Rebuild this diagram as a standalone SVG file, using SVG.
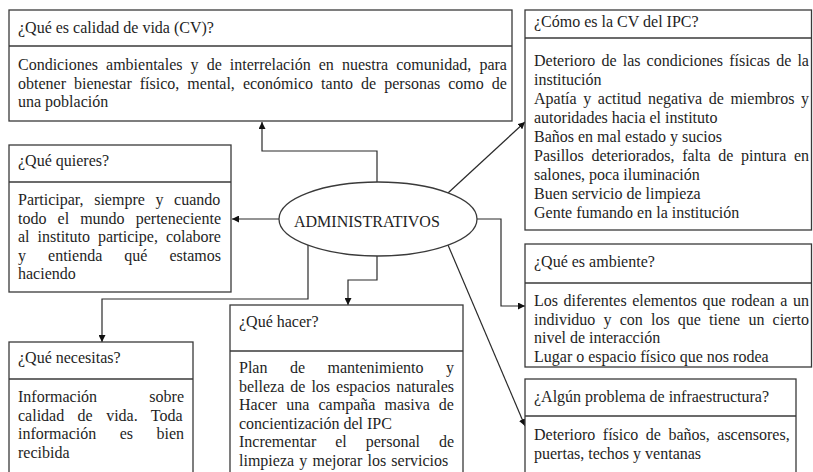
<svg xmlns="http://www.w3.org/2000/svg" width="813" height="472" viewBox="0 0 813 472">
<style>
.bg{fill:#fff}
.box{fill:#fff;stroke:#3a3a3a;stroke-width:1.3}
.div{stroke:#3a3a3a;stroke-width:1.3;fill:none}
.t{font-family:"Liberation Serif","Times New Roman",serif;font-size:16px;fill:#1e1e1e}
.con{fill:none;stroke:#2a2a2a;stroke-width:1.2}
</style>
<defs>
<marker id="ah" viewBox="0 0 10 10" refX="10" refY="5" markerWidth="7" markerHeight="7" markerUnits="userSpaceOnUse" orient="auto">
<path d="M0,0 L10,5 L0,10 z" fill="#111"/>
</marker>
</defs>
<rect class="bg" x="0" y="0" width="813" height="472"/>

<g id="connectors">
<polyline class="con" points="377,182 377,151 262,151 262,122" marker-end="url(#ah)"/>
<line class="con" x1="448" y1="193" x2="525" y2="122" marker-end="url(#ah)"/>
<line class="con" x1="279" y1="219" x2="232" y2="219" marker-end="url(#ah)"/>
<polyline class="con" points="477,219 501,219 501,306 525,306" marker-end="url(#ah)"/>
<line class="con" x1="448" y1="245" x2="525" y2="426" marker-end="url(#ah)"/>
<polyline class="con" points="377,256 377,280 348,280 348,305" marker-end="url(#ah)"/>
<polyline class="con" points="308,245 308,299 102,299 102,342" marker-end="url(#ah)"/>
</g>

<g id="n-calidad">
<rect class="box" x="9" y="10" width="503" height="111"/>
<line class="div" x1="9" y1="46" x2="512" y2="46"/>
<text class="t" x="18" y="33">¿Qué es calidad de vida (CV)?</text>
<text class="t" x="18" y="70" word-spacing="4.08">Condiciones ambientales y de interrelación en nuestra comunidad, para</text>
<text class="t" x="18" y="88.5" word-spacing="4.02">obtener bienestar físico, mental, económico tanto de personas como de</text>
<text class="t" x="18" y="107">una población</text>
</g>

<g id="n-ipc">
<rect class="box" x="525" y="10" width="286.5" height="220"/>
<line class="div" x1="525" y1="38" x2="811.5" y2="38"/>
<text class="t" x="534" y="27">¿Cómo es la CV del IPC?</text>
<text class="t" x="534" y="66" word-spacing="2.14">Deterioro de las condiciones físicas de la</text>
<text class="t" x="534" y="85">institución</text>
<text class="t" x="534" y="104" word-spacing="2.58">Apatía y actitud negativa de miembros y</text>
<text class="t" x="534" y="123">autoridades hacia el instituto</text>
<text class="t" x="534" y="142">Baños en mal estado y sucios</text>
<text class="t" x="534" y="161" word-spacing="3.64">Pasillos deteriorados, falta de pintura en</text>
<text class="t" x="534" y="180">salones, poca iluminación</text>
<text class="t" x="534" y="199">Buen servicio de limpieza</text>
<text class="t" x="534" y="218">Gente fumando en la institución</text>
</g>

<g id="n-quieres">
<rect class="box" x="9" y="145" width="222" height="147"/>
<line class="div" x1="9" y1="182" x2="231" y2="182"/>
<text class="t" x="18" y="166">¿Qué quieres?</text>
<text class="t" x="18" y="205" word-spacing="6.64">Participar, siempre y cuando</text>
<text class="t" x="18" y="223.5" word-spacing="7.09">todo el mundo perteneciente</text>
<text class="t" x="18" y="242" word-spacing="3.97">al instituto participe, colabore</text>
<text class="t" x="18" y="260.5" word-spacing="18.05">y entienda qué estamos</text>
<text class="t" x="18" y="279">haciendo</text>
</g>

<g id="n-admin">
<ellipse class="box" cx="378" cy="219" rx="99" ry="37"/>
<text class="t" x="294" y="227">ADMINISTRATIVOS</text>
</g>

<g id="n-ambiente">
<rect class="box" x="525" y="244" width="286.5" height="123"/>
<line class="div" x1="525" y1="283" x2="811.5" y2="283"/>
<text class="t" x="534" y="267">¿Qué es ambiente?</text>
<text class="t" x="534" y="306" word-spacing="1.55">Los diferentes elementos que rodean a un</text>
<text class="t" x="534" y="324.5" word-spacing="4.18">individuo y con los que tiene un cierto</text>
<text class="t" x="534" y="343">nivel de interacción</text>
<text class="t" x="534" y="361.5">Lugar o espacio físico que nos rodea</text>
</g>

<g id="n-infra">
<rect class="box" x="525" y="379" width="271" height="110"/>
<line class="div" x1="525" y1="416" x2="796" y2="416"/>
<text class="t" x="534" y="402">¿Algún problema de infraestructura?</text>
<text class="t" x="534" y="440" word-spacing="3.5">Deterioro físico de baños, ascensores,</text>
<text class="t" x="534" y="458.5">puertas, techos y ventanas</text>
</g>

<g id="n-necesitas">
<rect class="box" x="9" y="342" width="184" height="140"/>
<line class="div" x1="9" y1="379" x2="193" y2="379"/>
<text class="t" x="18" y="363">¿Qué necesitas?</text>
<text class="t" x="18" y="402" word-spacing="48.26">Información sobre</text>
<text class="t" x="18" y="420.5" word-spacing="9.42">calidad de vida. Toda</text>
<text class="t" x="18" y="439" word-spacing="19.46">información es bien</text>
<text class="t" x="18" y="457.5">recibida</text>
</g>

<g id="n-hacer">
<rect class="box" x="230" y="305" width="233" height="180"/>
<line class="div" x1="230" y1="351" x2="463" y2="351"/>
<text class="t" x="239" y="327">¿Qué hacer?</text>
<text class="t" x="239" y="373" word-spacing="18.47">Plan de mantenimiento y</text>
<text class="t" x="239" y="391.5" word-spacing="1.99">belleza de los espacios naturales</text>
<text class="t" x="239" y="410" word-spacing="5.10">Hacer una campaña masiva de</text>
<text class="t" x="239" y="428.5">concientización del IPC</text>
<text class="t" x="239" y="447" word-spacing="14.95">Incrementar el personal de</text>
<text class="t" x="239" y="465.5" word-spacing="1.2">limpieza y mejorar los servicios</text>
</g>
</svg>
